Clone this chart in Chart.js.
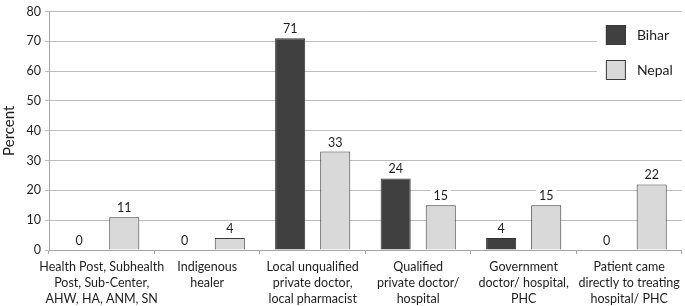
<!DOCTYPE html>
<html>
<head>
<meta charset="utf-8">
<script src="https://cdn.jsdelivr.net/npm/chart.js@4.4.0/dist/chart.umd.min.js"></script>
<style>
  html, body { margin: 0; padding: 0; background: #fff; }
  #wrap { width: 685px; height: 306px; }
</style>
</head>
<body>
<div id="wrap"><canvas id="chart" width="685" height="306"></canvas></div>
<script>
// categories (multi-line labels) and series values
const categories = [
    ['Health Post, Subhealth', 'Post, Sub-Center,', 'AHW, HA, ANM, SN'],
    ['Indigenous', 'healer'],
    ['Local unqualified', 'private doctor,', 'local pharmacist'],
    ['Qualified', 'private doctor/', 'hospital'],
    ['Government', 'doctor/ hospital,', 'PHC'],
    ['Patient came', 'directly to treating', 'hospital/ PHC']
];
const bihar = [0, 0, 71, 24, 4, 0];
const nepal = [11, 4, 33, 15, 15, 22];
const seriesNames = ['Bihar', 'Nepal'];
const yTicks = [0, 10, 20, 30, 40, 50, 60, 70, 80];

const FONT = 'Lato, "Open Sans", sans-serif';
const TEXT = '#1e1e1e';

// value labels above each bar, with a white patch behind them
const valueLabels = {
    id: 'valueLabels',
    afterDatasetsDraw(chart) {
        const ctx = chart.ctx;
        ctx.save();
        ctx.font = '12.5px ' + FONT;
        ctx.textAlign = 'center';
        ctx.textBaseline = 'middle';
        chart.data.datasets.forEach((ds, i) => {
            chart.getDatasetMeta(i).data.forEach((bar, j) => {
                const txt = String(ds.data[j]);
                const y = bar.y - 10;
                const w = ctx.measureText(txt).width + 6;
                ctx.fillStyle = '#fff';
                ctx.fillRect(bar.x - w / 2, y - 7, w, 14);
                ctx.fillStyle = TEXT;
                ctx.fillText(txt, bar.x, y + 1);
            });
        });
        ctx.restore();
    }
};

// legend box in the upper right corner of the plot
const boxLegend = {
    id: 'boxLegend',
    afterDatasetsDraw(chart) {
        const ctx = chart.ctx;
        const area = chart.chartArea;
        ctx.save();
        ctx.fillStyle = '#fff';
        ctx.fillRect(area.right - 85, 12, 85, 82);
        ctx.font = '14px ' + FONT;
        ctx.textBaseline = 'middle';
        chart.data.datasets.forEach((ds, i) => {
            const x = area.right - 76;
            const y = 25 + i * 35;
            ctx.fillStyle = ds.backgroundColor;
            ctx.fillRect(x, y, 20, 20);
            ctx.strokeStyle = '#3a3a3a';
            ctx.lineWidth = 1;
            ctx.strokeRect(x + 0.5, y + 0.5, 19, 19);
            ctx.fillStyle = TEXT;
            ctx.fillText(ds.label, x + 31, y + 10);
        });
        ctx.restore();
    }
};

new Chart(document.getElementById('chart'), {
    type: 'bar',
    data: {
        labels: categories,
        datasets: [
            {
                label: seriesNames[0],
                data: bihar,
                backgroundColor: '#404040',
                borderColor: '#333333',
                borderWidth: 1,
                categoryPercentage: 0.855,
                barPercentage: 0.667
            },
            {
                label: seriesNames[1],
                data: nepal,
                backgroundColor: '#d9d9d9',
                borderColor: '#3a3a3a',
                borderWidth: 1,
                categoryPercentage: 0.855,
                barPercentage: 0.667
            }
        ]
    },
    options: {
        responsive: false,
        animation: false,
        layout: { padding: { top: 6, right: 2, left: 0, bottom: 0 } },
        plugins: {
            legend: { display: false },
            tooltip: { enabled: false }
        },
        scales: {
            x: {
                grid: {
                    display: true,
                    drawOnChartArea: false,
                    drawTicks: true,
                    tickLength: 4,
                    offset: true,
                    color: '#a6a6a6'
                },
                border: { color: '#a6a6a6' },
                ticks: {
                    color: TEXT,
                    font: { family: FONT, size: 12.5, lineHeight: 1.28 },
                    maxRotation: 0,
                    autoSkip: false,
                    padding: 5
                },
                afterFit(scale) { scale.height = 56; }
            },
            y: {
                min: 0,
                max: 80,
                afterBuildTicks(scale) {
                    scale.ticks = yTicks.map(v => ({ value: v }));
                },
                grid: {
                    color: '#bdbdbd',
                    tickLength: 4,
                    drawTicks: true
                },
                border: { color: '#a6a6a6' },
                ticks: {
                    color: TEXT,
                    font: { family: FONT, size: 12.5 },
                    padding: 4
                },
                title: {
                    display: true,
                    text: 'Percent',
                    color: TEXT,
                    font: { family: FONT, size: 15 },
                    padding: { top: 0, bottom: 2 }
                },
                afterFit(scale) { scale.width = 49; }
            }
        }
    },
    plugins: [valueLabels, boxLegend]
});
</script>
</body>
</html>
